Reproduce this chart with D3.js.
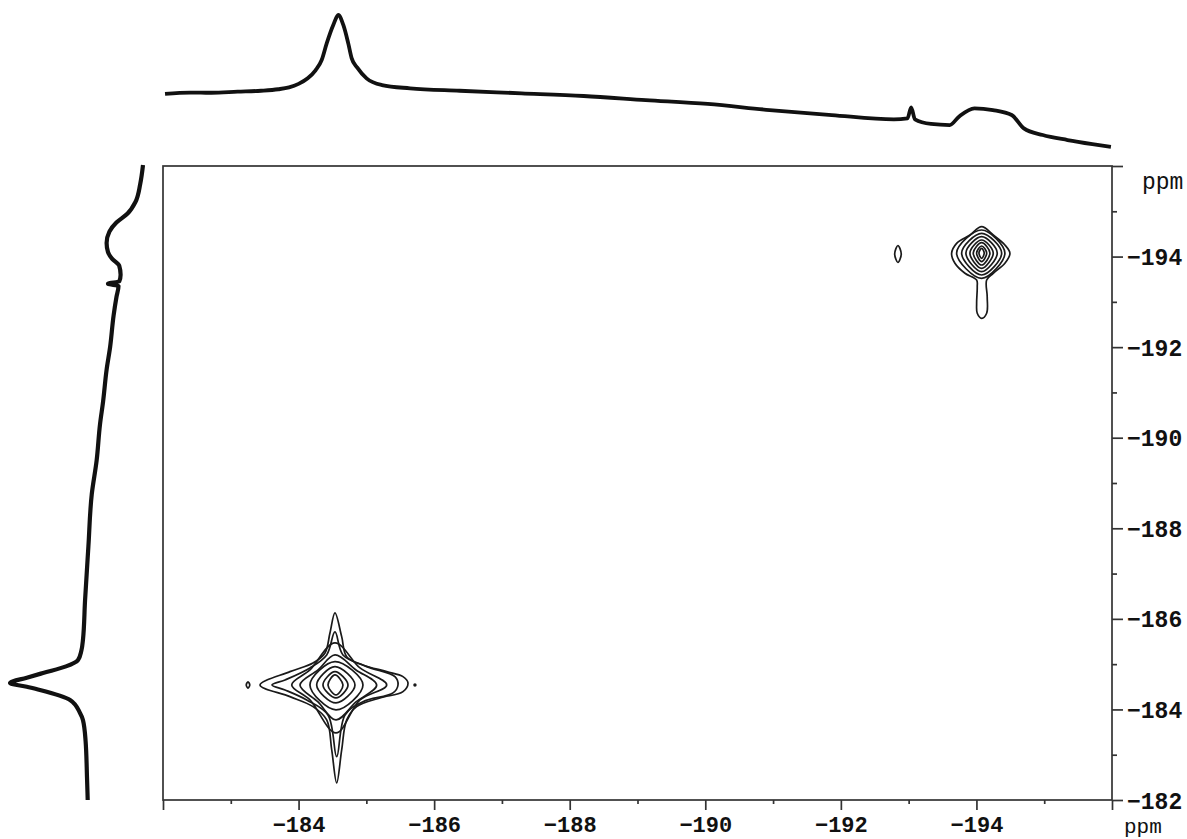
<!DOCTYPE html>
<html>
<head>
<meta charset="utf-8">
<script src="https://cdn.jsdelivr.net/npm/d3@7"></script>
<style>
  html, body { margin: 0; padding: 0; background: #fff; }
  svg { display: block; }
  .tick text { font-family: "Liberation Mono", "Courier New", monospace; font-weight: bold; fill: #111; }
  .unit { font-family: "Liberation Mono", "Courier New", monospace; fill: #111; }
</style>
</head>
<body>
<svg id="chart" width="1187" height="839"></svg>
<script>
// ── Data (ppm) ──
const f2Labels = [-184, -186, -188, -190, -192, -194];
const f1Labels = [-194, -192, -190, -188, -186, -184, -182];
const f2Ticks = d3.range(-182, -196.5, -1);
const f1Ticks = d3.range(-196, -181.5, 1);

// F2 projection (top): [ppm, intensity]
const topProjection = [
  [-182.03, 41.5], [-182.4, 42.5], [-182.715, 42.4], [-183.1, 43.2], [-183.446, 43.9],
  [-183.7, 45], [-183.859, 46.4], [-184.0, 49], [-184.135, 53.1], [-184.25, 59],
  [-184.341, 66.7], [-184.415, 79], [-184.512, 92.6], [-184.586, 100], [-184.66, 92.6],
  [-184.733, 79], [-184.784, 67.9], [-184.866, 61], [-185.003, 53.1], [-185.231, 48.1],
  [-185.644, 45.7], [-186.377, 43.9], [-187.291, 42], [-188.206, 40], [-189.122, 37],
  [-190.036, 34.1], [-190.951, 29.6], [-191.866, 25.9], [-192.782, 22.7], [-192.983, 23.5],
  [-193.037, 31.6], [-193.093, 22.7], [-193.329, 19.3], [-193.605, 18.5], [-193.742, 24.7],
  [-193.971, 30.9], [-194.244, 29.6], [-194.52, 25.9], [-194.70, 16], [-194.978, 11.1],
  [-195.344, 7.4], [-195.71, 4.4], [-195.984, 2.4]
];

// F1 projection (left): [ppm, intensity]
const leftProjection = [
  [-196.02, 5], [-195.6, 7], [-195.2, 10.5], [-194.95, 16], [-194.75, 24], [-194.55, 29],
  [-194.3, 31], [-194.1, 30], [-193.95, 27], [-193.8, 22], [-193.6, 21], [-193.45, 22],
  [-193.4, 30], [-193.35, 22.5], [-193.1, 24], [-192.7, 26], [-192.0, 28.5], [-191.5, 31],
  [-190.8, 33.5], [-190.3, 35.7], [-189.5, 38.1], [-188.75, 41.6], [-187.6, 44], [-186.4, 46.4],
  [-185.534, 47.9], [-185.3, 49], [-185.092, 51.4], [-184.95, 60], [-184.805, 76.4],
  [-184.7, 88], [-184.585, 100], [-184.5, 88], [-184.43, 78.6], [-184.209, 57.1],
  [-183.922, 50], [-183.768, 47.9], [-183.3, 46], [-182.5, 45], [-182.0, 44.5]
];

// contour rings of the peak at -184.5 / -184.5: [F2, F1]
const peakARings = [
  [[-184.537, -186.130], [-184.636, -185.607], [-184.710, -185.165], [-184.950, -184.982],
   [-185.300, -184.834], [-185.540, -184.724], [-185.614, -184.585], [-185.540, -184.392],
   [-185.201, -184.253], [-184.857, -184.061], [-184.710, -183.768], [-184.636, -183.105],
   [-184.562, -182.377], [-184.489, -183.105], [-184.415, -183.768], [-184.213, -184.061],
   [-183.873, -184.282], [-183.431, -184.540], [-183.873, -184.834], [-184.213, -185.026],
   [-184.390, -185.247], [-184.463, -185.689]],
  [[-184.537, -185.711], [-184.655, -185.203], [-185.005, -184.945], [-185.422, -184.724],
   [-185.467, -184.540], [-185.393, -184.364], [-184.950, -184.172], [-184.685, -183.878],
   [-184.562, -182.957], [-184.434, -183.878], [-184.120, -184.209], [-183.800, -184.430],
   [-183.608, -184.540], [-183.800, -184.651], [-184.168, -184.916], [-184.415, -185.203]],
  [[-184.537, -185.468], [-184.906, -184.916], [-185.300, -184.540], [-184.906, -184.209],
   [-184.552, -183.481], [-184.168, -184.209], [-183.899, -184.540], [-184.168, -184.872]],
  [[-184.537, -185.203], [-184.847, -184.872], [-185.152, -184.540], [-184.847, -184.165],
   [-184.552, -183.768], [-184.287, -184.165], [-184.021, -184.540], [-184.287, -184.872]],
  [[-184.537, -185.055], [-184.950, -184.540], [-184.552, -183.989], [-184.168, -184.540]],
  [[-184.537, -184.945], [-184.832, -184.540], [-184.552, -184.143], [-184.267, -184.540]],
  [[-184.537, -184.834], [-184.729, -184.540], [-184.552, -184.253], [-184.360, -184.540]],
  [[-184.537, -184.761], [-184.655, -184.540], [-184.552, -184.320], [-184.434, -184.540]],
  [[-183.254, -184.61], [-183.28, -184.54], [-183.254, -184.47], [-183.228, -184.54]],
  [[-185.717, -184.56], [-185.73, -184.54], [-185.717, -184.52], [-185.704, -184.54]]
];

// contour rings of the peak at -194.1 / -194.1
const peakBRings = [
  [[-193.634, -194.072], [-193.708, -194.293], [-193.904, -194.476], [-194.077, -194.660],
   [-194.248, -194.476], [-194.420, -194.256], [-194.494, -194.072], [-194.420, -193.852],
   [-194.248, -193.631], [-194.151, -193.483], [-194.159, -193.114], [-194.151, -192.748],
   [-194.077, -192.637], [-194.012, -192.748], [-194.003, -192.968], [-194.012, -193.335],
   [-194.003, -193.483], [-193.831, -193.631], [-193.683, -193.852]],
  [[-193.708, -194.079], [-194.077, -194.587], [-194.420, -194.079], [-194.077, -193.520]],
  [[-193.782, -194.079], [-194.077, -194.514], [-194.372, -194.079], [-194.077, -193.593]],
  [[-193.845, -194.079], [-194.077, -194.439], [-194.307, -194.079], [-194.077, -193.666]],
  [[-193.904, -194.079], [-194.077, -194.366], [-194.248, -194.079], [-194.077, -193.741]],
  [[-193.953, -194.079], [-194.077, -194.306], [-194.199, -194.079], [-194.077, -193.814]],
  [[-194.003, -194.079], [-194.077, -194.234], [-194.151, -194.079], [-194.077, -193.887]],
  [[-194.037, -194.079], [-194.077, -194.183], [-194.115, -194.079], [-194.077, -193.962]],
  [[-192.794, -194.057], [-192.842, -194.245], [-192.891, -194.057], [-192.842, -193.869]]
];

// ── Layout ──
const svg = d3.select("#chart");
const x = d3.scaleLinear().domain([-182, -196]).range([163, 1112]);
const y = d3.scaleLinear().domain([-196, -182]).range([166, 800]);
const topI = d3.scaleLinear().domain([0, 100]).range([150, 15]);
const leftI = d3.scaleLinear().domain([0, 100]).range([150, 10]);
const fmt = d3.format("d");
const ink = "#111";

// ── Axes ──
const xAxis = svg.append("g")
    .attr("transform", `translate(0,${y.range()[1]})`)
    .call(d3.axisBottom(x)
        .tickValues(f2Ticks)
        .tickSize(10)
        .tickSizeOuter(0)
        .tickFormat(d => f2Labels.includes(d) ? fmt(d) : ""));
xAxis.select(".domain").remove();
xAxis.selectAll(".tick line")
    .attr("stroke", "#333").attr("stroke-width", 1.7)
    .attr("y2", d => (d % 2 === 0) ? 10 : 4);
xAxis.selectAll(".tick text")
    .attr("y", 32).attr("dy", 0)
    .style("font-size", "22px");

const yAxis = svg.append("g")
    .attr("transform", `translate(${x.range()[1]},0)`)
    .call(d3.axisRight(y)
        .tickValues(f1Ticks)
        .tickSize(11)
        .tickSizeOuter(0)
        .tickFormat(d => f1Labels.includes(d) ? fmt(d) : ""));
yAxis.select(".domain").remove();
yAxis.selectAll(".tick line")
    .attr("stroke", "#333").attr("stroke-width", 1.7)
    .attr("x2", d => (d % 2 === 0) ? 11 : 5);
yAxis.selectAll(".tick text")
    .attr("x", 15).attr("dy", "0.35em")
    .style("font-size", "23px");

// frame
svg.append("rect")
    .attr("x", x.range()[0]).attr("y", y.range()[0])
    .attr("width", x.range()[1] - x.range()[0])
    .attr("height", y.range()[1] - y.range()[0])
    .attr("fill", "none").attr("stroke", "#333").attr("stroke-width", 1.7);

svg.append("text").attr("class", "unit")
    .attr("x", 1142).attr("y", 189)
    .style("font-size", "23px").text("ppm");
svg.append("text").attr("class", "unit")
    .attr("x", 1124).attr("y", 833)
    .style("font-size", "21px").text("ppm");

// ── Projections ──
svg.append("path")
    .datum(topProjection)
    .attr("fill", "none").attr("stroke", ink)
    .attr("stroke-width", 3.8).attr("stroke-linejoin", "round")
    .attr("d", d3.line()
        .x(d => x(d[0]))
        .y(d => topI(d[1]))
        .curve(d3.curveMonotoneX));

svg.append("path")
    .datum(leftProjection)
    .attr("fill", "none").attr("stroke", ink)
    .attr("stroke-width", 4.2).attr("stroke-linejoin", "round")
    .attr("d", d3.line()
        .x(d => leftI(d[1]))
        .y(d => y(d[0]))
        .curve(d3.curveMonotoneY));

// ── Contours ──
const ring = d3.line()
    .x(d => x(d[0]))
    .y(d => y(d[1]))
    .curve(d3.curveCatmullRomClosed.alpha(0.5));

svg.append("g")
    .selectAll("path")
    .data(peakARings.concat(peakBRings))
    .join("path")
    .attr("fill", "none")
    .attr("stroke", "#1a1a1a")
    .attr("stroke-width", 1.7)
    .attr("d", ring);
</script>
</body>
</html>
